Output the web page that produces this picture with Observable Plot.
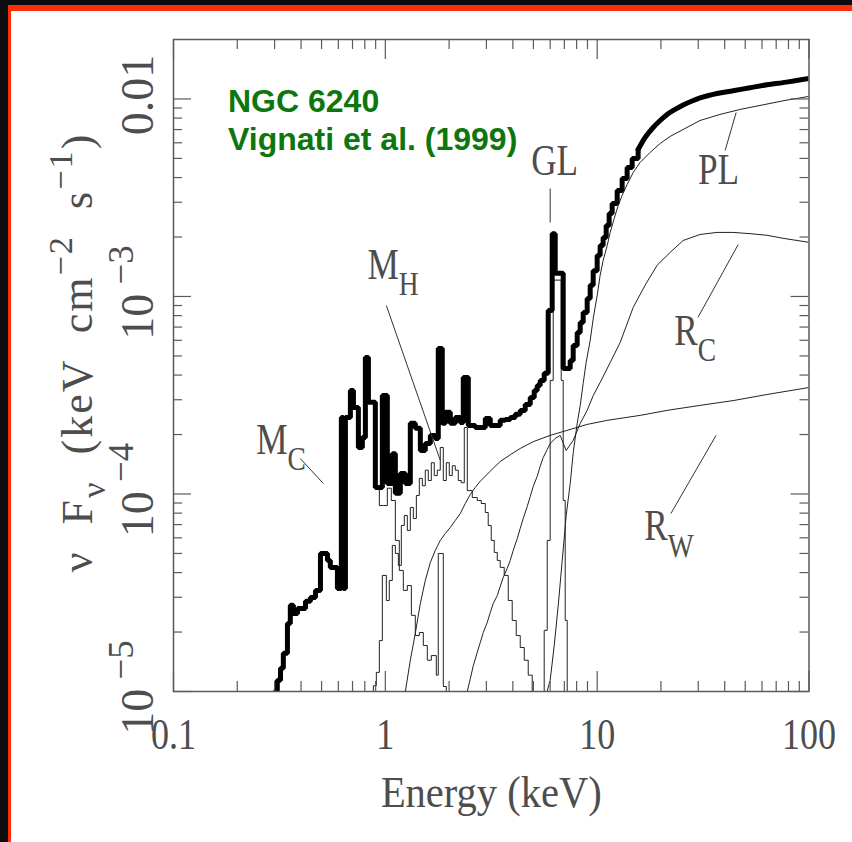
<!DOCTYPE html>
<html><head><meta charset="utf-8">
<script src="https://cdn.jsdelivr.net/npm/d3@7"></script>
<script src="https://cdn.jsdelivr.net/npm/@observablehq/plot@0.6"></script>
<style>
html,body{margin:0;padding:0;background:#0c0c0e;width:852px;height:842px;overflow:hidden;}
#panel{position:absolute;left:8px;top:5px;width:900px;height:900px;background:#fff;border-left:3px solid #ff2e0a;border-top:6px solid #ff2e0a;}
#chart{position:absolute;left:0;top:0;}
#title{position:absolute;left:228px;top:83px;font-family:"Liberation Sans",Arial,sans-serif;font-weight:bold;font-size:32px;line-height:37.6px;color:#0d760d;white-space:nowrap;}
</style></head>
<body>
<div id="panel"></div>
<div id="chart"></div>
<div id="title">NGC 6240<br>Vignati et al. (1999)</div>
<script>
// ---- data: [energy keV, nu F_nu] ----
const total = [[0.303,1.0e-5],[0.309,1.14e-5],[0.320,1.31e-5],[0.330,1.56e-5],[0.345,2.21e-5],[0.356,2.73e-5],[0.368,2.48e-5],[0.385,2.63e-5],[0.420,2.86e-5],[0.443,2.99e-5],[0.468,3.25e-5],[0.494,5.00e-5],[0.533,4.61e-5],[0.550,4.25e-5],[0.594,3.32e-5],[0.620,2.44e-4],[0.634,3.32e-5],[0.648,2.44e-4],[0.684,3.34e-4],[0.707,2.74e-4],[0.746,1.72e-4],[0.779,1.93e-4],[0.805,4.91e-4],[0.832,2.91e-4],[0.897,1.08e-4],[0.968,3.15e-4],[1.022,1.13e-4],[1.079,1.60e-4],[1.115,1.01e-4],[1.177,1.27e-4],[1.243,1.13e-4],[1.312,2.28e-4],[1.385,2.15e-4],[1.463,1.66e-4],[1.544,1.80e-4],[1.631,1.98e-4],[1.721,1.91e-4],[1.778,5.45e-4],[1.857,2.28e-4],[1.919,2.59e-4],[2.026,2.28e-4],[2.139,2.44e-4],[2.259,2.30e-4],[2.333,3.89e-4],[2.464,2.22e-4],[2.658,2.17e-4],[2.964,2.41e-4],[3.129,2.22e-4],[3.486,2.36e-4],[3.681,2.38e-4],[3.887,2.44e-4],[4.104,2.53e-4],[4.333,2.65e-4],[4.575,2.84e-4],[4.831,3.08e-4],[5.045,3.34e-4],[5.212,3.54e-4],[5.384,3.76e-4],[5.623,4.08e-4],[5.874,8.50e-4],[6.133,2.08e-3],[6.337,1.31e-3],[6.913,4.32e-4],[7.459,4.74e-4],[7.706,5.65e-4],[8.049,6.57e-4],[8.316,7.39e-4],[8.590,8.30e-4],[8.971,9.77e-4],[9.269,1.14e-3],[9.577,1.35e-3],[10.0,1.61e-3],[10.33,1.81e-3],[10.67,1.99e-3],[11.03,2.29e-3],[11.39,2.63e-3],[11.77,2.96e-3],[12.43,3.44e-3],[13.12,3.96e-3],[13.85,4.50e-3],[14.63,5.00e-3],[15.61,5.55e-3],[16.84,6.38e-3],[18.38,7.17e-3],[19.83,7.78e-3],[21.39,8.35e-3],[23.33,8.85e-3],[25.45,9.32e-3],[28.06,9.77e-3],[30.6,1.012e-2],[36.8,1.066e-2],[43.8,1.10e-2],[52.7,1.14e-2],[63.4,1.18e-2],[75.4,1.21e-2],[100,1.27e-2]];

const mC = [[0.897,1.07e-4],[0.937,8.74e-5],[0.979,8.74e-5],[1.022,1.07e-4],[1.067,9.27e-5],[1.115,5.82e-5],[1.164,4.10e-5],[1.216,3.25e-5],[1.270,3.44e-5],[1.327,2.43e-5],[1.385,1.92e-5],[1.447,1.99e-5],[1.511,1.71e-5],[1.578,1.44e-5],[1.648,1.52e-5],[1.740,1.21e-5],[1.778,5.00e-5],[1.878,1.06e-5],[1.940,1.0e-5]];

const mH = [[0.859,1.0e-5],[0.878,1.07e-5],[0.907,1.25e-5],[0.937,1.81e-5],[0.968,3.87e-5],[1.011,2.89e-5],[1.044,3.65e-5],[1.079,5.49e-5],[1.115,5.00e-5],[1.152,4.35e-5],[1.190,6.93e-5],[1.229,7.78e-5],[1.270,6.54e-5],[1.312,8.55e-5],[1.356,7.51e-5],[1.401,9.83e-5],[1.447,1.20e-4],[1.495,1.10e-4],[1.544,1.32e-4],[1.595,1.17e-4],[1.648,1.44e-4],[1.702,1.24e-4],[1.759,1.32e-4],[1.817,1.72e-4],[1.878,1.17e-4],[1.940,1.44e-4],[2.004,1.24e-4],[2.070,1.39e-4],[2.139,1.32e-4],[2.210,1.17e-4],[2.283,1.14e-4],[2.359,2.17e-4],[2.437,1.04e-4],[2.573,9.60e-5],[2.716,9.27e-5],[2.837,8.95e-5],[2.964,8.06e-5],[3.060,6.93e-5],[3.162,5.82e-5],[3.267,5.06e-5],[3.376,4.61e-5],[3.486,4.25e-5],[3.641,3.87e-5],[3.804,2.89e-5],[3.972,2.29e-5],[4.149,1.92e-5],[4.333,1.67e-5],[4.526,1.44e-5],[4.727,1.21e-5],[4.936,1.0e-5]];

const gl = [[5.384,1.0e-5],[5.623,2.04e-5],[5.810,5.82e-5],[6.00,3.76e-4],[6.202,1.21e-3],[6.765,3.76e-4],[6.913,9.27e-5],[7.065,2.29e-5],[7.22,1.0e-5]];

const pl = [[5.80,1.0e-5],[6.00,1.14e-5],[6.27,1.71e-5],[6.55,2.73e-5],[6.84,4.61e-5],[7.14,7.78e-5],[7.46,1.13e-4],[7.71,1.62e-4],[8.05,2.28e-4],[8.32,2.81e-4],[8.59,3.63e-4],[8.87,4.63e-4],[9.27,5.99e-4],[9.58,7.74e-4],[10.0,1.01e-3],[10.33,1.28e-3],[10.67,1.52e-3],[11.15,1.81e-3],[11.52,2.11e-3],[12.03,2.48e-3],[12.57,2.89e-3],[13.12,3.25e-3],[13.85,3.69e-3],[14.79,4.24e-3],[15.95,4.77e-3],[17.78,5.36e-3],[19.83,5.95e-3],[22.1,6.46e-3],[26.0,7.09e-3],[30.6,7.78e-3],[38.0,8.35e-3],[47.3,8.85e-3],[58.7,9.27e-3],[77.1,9.83e-3],[100,1.03e-2]];

const rC = [[2.437,1.0e-5],[2.517,1.16e-5],[2.601,1.35e-5],[2.716,1.58e-5],[2.806,1.77e-5],[2.900,1.99e-5],[3.028,2.24e-5],[3.129,2.51e-5],[3.231,2.79e-5],[3.376,3.06e-5],[3.486,3.40e-5],[3.602,3.78e-5],[3.762,4.20e-5],[3.887,4.61e-5],[4.016,5.18e-5],[4.195,5.95e-5],[4.333,6.69e-5],[4.477,7.51e-5],[4.676,8.65e-5],[4.831,9.71e-5],[4.989,1.09e-4],[5.212,1.23e-4],[5.384,1.38e-4],[5.563,1.53e-4],[5.810,1.68e-4],[6.00,1.80e-4],[6.337,1.91e-4],[6.691,1.98e-4],[7.14,1.66e-4],[7.71,1.87e-4],[8.32,2.28e-4],[8.97,2.65e-4],[9.58,3.15e-4],[10.33,3.67e-4],[11.52,4.63e-4],[12.84,5.85e-4],[14.79,8.80e-4],[16.84,1.14e-3],[19.19,1.44e-3],[22.1,1.67e-3],[25.45,1.92e-3],[30.6,2.06e-3],[36.8,2.11e-3],[43.8,2.11e-3],[52.7,2.08e-3],[63.4,2.04e-3],[75.4,1.97e-3],[100,1.88e-3]];

const rW = [[1.243,1.0e-5],[1.312,1.44e-5],[1.385,1.97e-5],[1.463,2.79e-5],[1.544,3.65e-5],[1.631,4.50e-5],[1.721,5.18e-5],[1.817,5.82e-5],[1.919,6.31e-5],[2.026,6.77e-5],[2.139,7.34e-5],[2.259,7.97e-5],[2.384,8.95e-5],[2.517,9.94e-5],[2.658,1.08e-4],[2.806,1.16e-4],[3.028,1.26e-4],[3.231,1.35e-4],[3.486,1.46e-4],[3.887,1.58e-4],[4.333,1.70e-4],[4.989,1.84e-4],[6.00,1.98e-4],[7.22,2.10e-4],[8.97,2.25e-4],[11.15,2.36e-4],[15.95,2.50e-4],[21.39,2.65e-4],[30.6,2.81e-4],[43.8,2.97e-4],[63.4,3.19e-4],[100,3.46e-4]];

// component labels and pointer lines (energy, flux)
const labelText = ["M_{C}","M_{H}","GL","PL","R_{C}","R_{W}"];
const labelE    = [0.246, 0.823, 4.88, 29.9, 23.1, 16.7];
const labelF    = [1.60e-4, 1.23e-3, 4.10e-3, 3.73e-3, 5.71e-4, 5.82e-5];
const pointers  = [[0.397,1.51e-4,0.510,1.13e-4],[1.011,9.00e-4,1.817,1.48e-4],[6.00,3.52e-3,6.00,2.37e-3],[45.3,8.54e-3,40.2,5.49e-3],[46.3,1.83e-3,29.9,7.83e-4],[36.4,1.98e-4,22.3,7.97e-5]];

// axes
const xMajor = [0.1,1,10,100];
const xTickText = ["0.1","1","10","100"];
const xMinor = [0.2,0.3,0.4,0.5,0.6,0.7,0.8,0.9,2,3,4,5,6,7,8,9,20,30,40,50,60,70,80,90];
const yMajor = [1e-5,1e-4,1e-3,1e-2];
const yTickText = ["10\u2009^{\u22125}","10\u2009^{\u22124}","10\u2009^{\u22123}","0.01"];
const yMinor = [2e-5,3e-5,4e-5,5e-5,6e-5,7e-5,8e-5,9e-5,2e-4,3e-4,4e-4,5e-4,6e-4,7e-4,8e-4,9e-4,2e-3,3e-3,4e-3,5e-3,6e-3,7e-3,8e-3,9e-3];
const xTitle = "Energy (keV)";
const yTitle = "\u03bd  F_{\u03bd}  (keV  cm^{\u22122}  s^{\u22121})";

const W=852,H=842,ML=173,MR=43.5,MT=39,MB=151;
const FW=W-ML-MR, FH=H-MT-MB;
const serif='"Liberation Serif","DejaVu Serif",serif';
const grey="#4d4d4d", tickc="#5a5a5a";
const thin = {x:d=>d[0], y:d=>d[1], stroke:"#222", strokeWidth:1, clip:true};
const thick = {x:d=>d[0], y:d=>d[1], stroke:"#000", strokeWidth:5, strokeLinejoin:"miter", clip:true};
const smoothFrom = 15.61; // channel steps merge into a smooth curve above this energy

const plot = Plot.plot({
  width:W, height:H, marginLeft:ML, marginRight:MR, marginTop:MT, marginBottom:MB,
  x:{type:"log", domain:[0.1,100], axis:null},
  y:{type:"log", domain:[1e-5,0.02], axis:null},
  style:{background:"transparent", overflow:"visible"},
  marks:[
    Plot.line(mC, {...thin, curve:"step-after"}),
    Plot.line(mH, {...thin, curve:"step-after"}),
    Plot.line(gl, {...thin, curve:"step-after"}),
    Plot.line(rW, {...thin, curve:"linear"}),
    Plot.line(rC, {...thin, curve:"linear"}),
    Plot.line(pl, {...thin, curve:"linear"}),
    Plot.line(total.filter(d=>d[0]<=smoothFrom), {...thick, curve:"step-after"}),
    Plot.line(total.filter(d=>d[0]>=smoothFrom), {...thick, curve:"monotone-x", strokeLinecap:"round"}),
    Plot.frame({stroke:tickc, strokeWidth:1.5}),
    Plot.tickX(xMajor, {x:d=>d, insetTop:FH-20, stroke:tickc, strokeWidth:1.2}),
    Plot.tickX(xMajor, {x:d=>d, insetBottom:FH-20, stroke:tickc, strokeWidth:1.2}),
    Plot.tickX(xMinor, {x:d=>d, insetTop:FH-10, stroke:tickc, strokeWidth:1.2}),
    Plot.tickX(xMinor, {x:d=>d, insetBottom:FH-10, stroke:tickc, strokeWidth:1.2}),
    Plot.tickY(yMajor, {y:d=>d, insetRight:FW-18, stroke:tickc, strokeWidth:1.2}),
    Plot.tickY(yMajor, {y:d=>d, insetLeft:FW-18, stroke:tickc, strokeWidth:1.2}),
    Plot.tickY(yMinor, {y:d=>d, insetRight:FW-9, stroke:tickc, strokeWidth:1.2}),
    Plot.tickY(yMinor, {y:d=>d, insetLeft:FW-9, stroke:tickc, strokeWidth:1.2}),
    Plot.link(pointers, {x1:d=>d[0], y1:d=>d[1], x2:d=>d[2], y2:d=>d[3], stroke:"#333", strokeWidth:1}),
    Plot.text(labelText, {x:(d,i)=>labelE[i], y:(d,i)=>labelF[i], text:d=>d, textAnchor:"start", lineAnchor:"bottom", fontSize:44, fontFamily:serif, fill:grey}),
    Plot.text(xMajor, {x:d=>d, frameAnchor:"bottom", dy:57, text:(d,i)=>xTickText[i], lineAnchor:"bottom", fontSize:44, fontFamily:serif, fill:grey}),
    Plot.text(yMajor, {y:d=>d, frameAnchor:"left", dx:-21, dy:-4, rotate:-90, text:(d,i)=>yTickText[i], textAnchor:"middle", lineAnchor:"bottom", fontSize:46, fontFamily:serif, fill:grey}),
    Plot.text([xTitle], {frameAnchor:"bottom", dy:115, text:d=>d, lineAnchor:"bottom", fontSize:45, fontFamily:serif, fill:grey}),
    Plot.text([yTitle], {frameAnchor:"left", dx:-82, dy:-13, rotate:-90, text:d=>d, textAnchor:"middle", lineAnchor:"bottom", fontSize:44, fontFamily:serif, fill:grey})
  ]
});
document.getElementById("chart").append(plot);

const SVGNS="http://www.w3.org/2000/svg";
const allText=[...plot.querySelectorAll("text")];
// horizontal condensing of the narrow plotting font
function squeeze(t, sx){
  let tr=t.getAttribute("transform");
  if(!tr){
    const x=+(t.getAttribute("x")||0);
    t.removeAttribute("x");
    tr=`translate(${x},0)`;
  }
  t.setAttribute("transform", tr+` scale(${sx},1)`);
}
allText.forEach(t=>{
  const s=t.textContent;
  if(labelText.includes(s)) squeeze(t,0.8);
  else if(xTickText.includes(s)) squeeze(t,0.82);
  else if(s===xTitle) squeeze(t,0.9);
  if(s===yTitle) t.style.letterSpacing="2px";
});
// sub/superscripts
function richText(t){
  const s=t.textContent;
  if(!/[_^]\{/.test(s)) return;
  const S=parseFloat(getComputedStyle(t).fontSize)||40;
  const isTitle=(s===yTitle), isTick=yTickText.includes(s);
  const scale=isTick?0.8:0.78;
  const subShift=isTitle?0.3:0.38, supShift=isTick?0.42:0.45;
  t.textContent="";
  const re=/([_^])\{([^}]*)\}/g;
  let last=0, m, cur=0;
  const add=(str,kind)=>{
    if(!str) return;
    const ts=document.createElementNS(SVGNS,"tspan");
    ts.style.whiteSpace="pre";
    let target=0;
    if(kind==="_"){target=subShift*S; ts.setAttribute("font-size",(scale*S)+"px");}
    else if(kind==="^"){target=-supShift*S; ts.setAttribute("font-size",(scale*S)+"px");}
    const dy=target-cur;
    if(dy!==0) ts.setAttribute("dy",dy+"px");
    cur=target;
    ts.textContent=str;
    t.appendChild(ts);
  };
  while((m=re.exec(s))){
    if(m.index>last) add(s.slice(last,m.index),null);
    add(m[2],m[1]);
    last=re.lastIndex;
  }
  if(last<s.length) add(s.slice(last),null);
}
allText.forEach(richText);
</script>
</body></html>
